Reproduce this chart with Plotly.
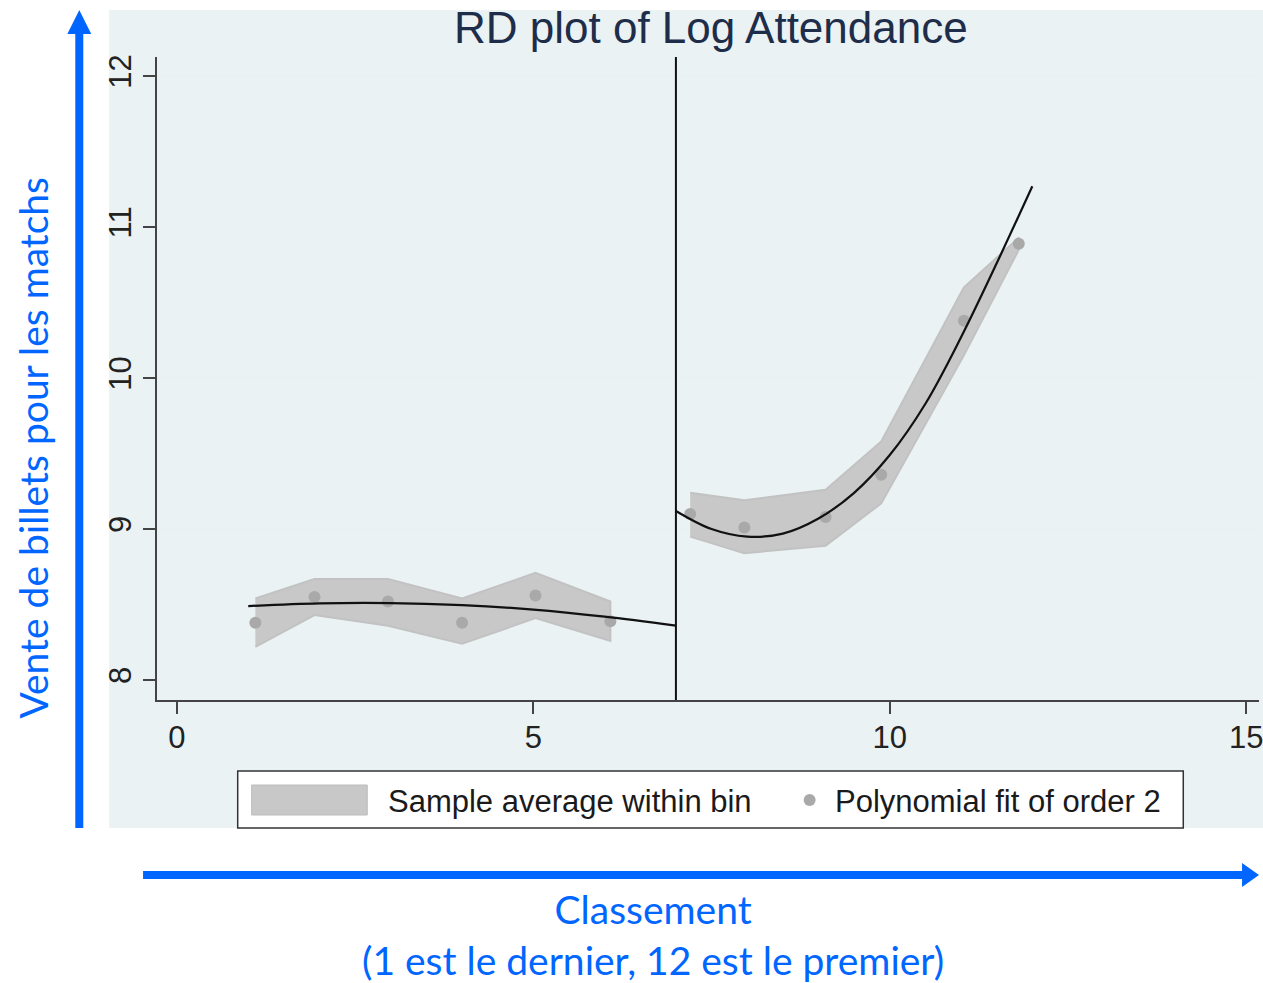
import plotly.graph_objects as go

# ---------------- data ----------------
bin_x_left = [1.10, 1.93, 2.96, 4.00, 5.03, 6.08]
bin_mean_left = [8.38, 8.55, 8.52, 8.38, 8.56, 8.39]
band_upper_left = [8.54, 8.67, 8.67, 8.54, 8.71, 8.52]
band_lower_left = [8.22, 8.43, 8.36, 8.24, 8.41, 8.26]

bin_x_right = [7.20, 7.96, 9.10, 9.88, 11.04, 11.81]
bin_mean_right = [9.10, 9.01, 9.08, 9.36, 10.38, 10.89]
band_upper_right = [9.24, 9.19, 9.26, 9.58, 10.60, 10.93]
band_lower_right = [8.95, 8.84, 8.89, 9.17, 10.15, 10.85]

fit_x_left = [1.0, 2.0, 3.0, 4.0, 5.0, 6.0, 7.0]
fit_y_left = [8.49, 8.508, 8.51, 8.496, 8.467, 8.42, 8.36]

fit_x_right = [7.0, 7.5, 8.0, 8.5, 9.0, 9.5, 10.0, 10.5, 11.0, 11.5, 12.0]
fit_y_right = [9.12, 9.00, 8.95, 8.97, 9.07, 9.24, 9.49, 9.83, 10.27, 10.76, 11.27]

cutoff = 7
x_ticks = [0, 5, 10, 15]
y_ticks = [8, 9, 10, 11, 12]

title_text = "RD plot of Log Attendance"
legend_band_text = "Sample average within bin"
legend_dot_text = "Polynomial fit of order 2"
y_title = "Vente de billets pour les matchs"
x_title = "Classement<br>(1 est le dernier, 12 est le premier)"

# ---------------- layout geometry ----------------
W, H = 1263, 983
L, R, T, B = 157, 1263, 57, 700


def px(xp):
    return (xp - L) / (R - L)


def py(yp):
    return (B - yp) / (B - T)


BAND = "#c8c8c8"
DOT = "#a9a9a9"
BLUE = "#0066ff"
BG = "#eaf2f4"

fig = go.Figure()

for bx, up, lo in [(bin_x_left, band_upper_left, band_lower_left),
                   (bin_x_right, band_upper_right, band_lower_right)]:
    fig.add_trace(go.Scatter(
        x=bx + bx[::-1], y=up + lo[::-1], fill="toself", fillcolor=BAND,
        mode="lines", line=dict(color="#c2c2c2", width=2), hoverinfo="skip",
        showlegend=False))

for bx, bm in [(bin_x_left, bin_mean_left), (bin_x_right, bin_mean_right)]:
    fig.add_trace(go.Scatter(
        x=bx, y=bm, mode="markers", marker=dict(color=DOT, size=12),
        showlegend=False))

for fx, fy in [(fit_x_left, fit_y_left), (fit_x_right, fit_y_right)]:
    fig.add_trace(go.Scatter(
        x=fx, y=fy, mode="lines", line=dict(color="#111111", width=2.2, shape="spline"),
        showlegend=False))

shapes = [
    # light blue graph region
    dict(type="rect", xref="paper", yref="paper", x0=px(109), x1=px(1263) + 0.01,
         y0=py(828), y1=py(10), fillcolor=BG, line=dict(width=0), layer="below"),
    # cutoff line
    dict(type="line", xref="x", yref="paper", x0=cutoff, x1=cutoff, y0=0, y1=1,
         line=dict(color="#111111", width=2)),
    # legend box
    dict(type="rect", xref="paper", yref="paper", x0=px(238), x1=px(1187),
         y0=py(828), y1=py(771), fillcolor="white", line=dict(color="#333333", width=1.5)),
    dict(type="rect", xref="paper", yref="paper", x0=px(252), x1=px(368),
         y0=py(815), y1=py(785), fillcolor=BAND, line=dict(color="#bcbcbc", width=1)),
    dict(type="circle", xref="paper", yref="paper", x0=px(806), x1=px(818),
         y0=py(806), y1=py(794), fillcolor=DOT, line=dict(width=0)),
    # arrows
    dict(type="line", xref="paper", yref="paper", x0=px(79), x1=px(79),
         y0=py(828), y1=py(30), line=dict(color=BLUE, width=8)),
    dict(type="path", xref="paper", yref="paper",
         path=f"M {px(79)} {py(10)} L {px(67)} {py(34)} L {px(91)} {py(34)} Z",
         fillcolor=BLUE, line=dict(width=0)),
    dict(type="line", xref="paper", yref="paper", x0=px(143), x1=px(1248),
         y0=py(875), y1=py(875), line=dict(color=BLUE, width=8)),
    dict(type="path", xref="paper", yref="paper",
         path=f"M {px(1263)} {py(875)} L {px(1246)} {py(863)} L {px(1246)} {py(887)} Z",
         fillcolor=BLUE, line=dict(width=0)),
]

annotations = [
    dict(text=title_text, xref="paper", yref="paper", x=px(713), y=py(27),
         xanchor="center", yanchor="middle", showarrow=False,
         font=dict(family="Liberation Sans, Arial", size=44, color="#1e2d4a")),
    dict(text=legend_band_text, xref="paper", yref="paper", x=px(387), y=py(801),
         xanchor="left", yanchor="middle", showarrow=False,
         font=dict(family="Liberation Sans, Arial", size=31, color="#1a1a1a")),
    dict(text=legend_dot_text, xref="paper", yref="paper", x=px(835), y=py(801),
         xanchor="left", yanchor="middle", showarrow=False,
         font=dict(family="Liberation Sans, Arial", size=31, color="#1a1a1a")),
    dict(text=y_title, xref="paper", yref="paper", x=px(33), y=py(448),
         xanchor="center", yanchor="middle", textangle=-90, showarrow=False,
         font=dict(family="Lato, Source Sans Pro, sans-serif", size=39, color=BLUE)),
    dict(text=x_title, xref="paper", yref="paper", x=px(655), y=py(934),
         xanchor="center", yanchor="middle", showarrow=False,
         font=dict(family="Lato, Source Sans Pro, sans-serif", size=39, color=BLUE)),
]

axis_font = dict(family="Liberation Sans, Arial", size=31, color="#222222")

fig.update_layout(
    width=W, height=H,
    margin=dict(l=L, r=W - R, t=T, b=H - B, pad=0),
    paper_bgcolor="white", plot_bgcolor="white",
    showlegend=False,
    shapes=shapes, annotations=annotations,
    xaxis=dict(range=[-0.28, 15.18], tickvals=x_ticks, ticktext=[str(v) for v in x_ticks],
               showgrid=False, zeroline=False, showline=True, linecolor="#444444",
               linewidth=1.5, ticks="outside", ticklen=12, tickwidth=1.5,
               tickcolor="#444444", tickfont=axis_font, ticklabeloverflow="allow",
               ticklabelstandoff=-3),
    yaxis=dict(range=[7.868, 12.126], tickvals=y_ticks, ticktext=[str(v) for v in y_ticks],
               showgrid=True, gridcolor="#eaf1f1", gridwidth=1.5, zeroline=False,
               showline=True, linecolor="#444444", linewidth=1.5, ticks="outside",
               ticklen=12, tickwidth=1.5, tickcolor="#444444", tickangle=-90,
               tickfont=axis_font),
)

fig.write_html(
    "out.html",
    config={"displayModeBar": False},
    post_script="document.body.style.margin='0';document.body.style.padding='0';",
)
